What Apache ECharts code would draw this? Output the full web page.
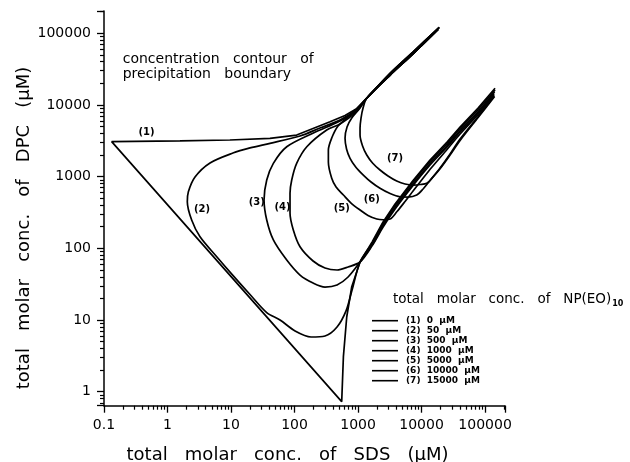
<!DOCTYPE html>
<html><head><meta charset="utf-8">
<script src="https://cdn.jsdelivr.net/npm/echarts@6/dist/echarts.min.js"></script>
<style>html,body{margin:0;padding:0;background:#fff}#c{width:630px;height:462px}</style>
</head><body><div id="c"></div>
<script>
// ---- data (SDS µM, DPC µM) ----
const sdsTicks = [0.1, 1, 10, 100, 1000, 10000, 100000];
const sdsTickLabels = ['0.1', '1', '10', '100', '1000', '10000', '100000'];
const dpcTicks = [1, 10, 100, 1000, 10000, 100000];
const dpcTickLabels = ['1', '10', '100', '1000', '10000', '100000'];
const sdsRange = [0.1, 206000];
const dpcRange = [0.638, 204000];

const seriesNames = ['(1)  0  µM', '(2)  50  µM', '(3)  500  µM', '(4)  1000  µM', '(5)  5000  µM', '(6)  10000  µM', '(7)  15000  µM'];
const curveTags = ['(1)', '(2)', '(3)', '(4)', '(5)', '(6)', '(7)'];

const curve1 = [
  [19000,121000],[7400,55000],[3200,27600],[1370,12400],
  [931,8770],[624,7110],[362,5830],[108,3800],[41,3420],[9.6,3240],[1.57,3140],[0.132,3070],
  [553,0.726],[588,3.08],[664,11.1],[796,29.1],[1075,64.4],
  [1660,122],[2480,233],[3830,415],[7350,883],[13600,1705],[25200,3040],[40400,4920],[77700,9060],[143600,17050]
];
const curve2 = [
  [19000,121000],[7400,55000],[3200,27600],[1370,12400],
  [931,8490],[521,6160],[252,4760],[122,3680],[41.1,2910],[19.9,2510],[10.7,2130],[4.67,1550],[2.71,987],[2.13,615],[2.05,447],[2.40,248],[3.25,145],[5.96,76.4],[10.7,42.0],[19.9,22.7],[36.5,12.7],[59.1,10.0],[102,7.03],[182,5.79],[302,5.98],[467,7.98],[647,13.4],[805,26.2],[1075,64.4],
  [1660,117],[2480,222],[3830,395],[7350,841],[13600,1625],[25200,2895],[40400,4690],[77700,8630],[143600,16130]
];
const curve3 = [
  [19000,121000],[7400,55000],[3200,27600],[1370,12400],
  [931,8220],[521,5960],[198,4060],[75.4,2610],[46.4,1530],[36.5,897],[33.1,472],[36.5,248],[46.4,131],[75.4,68.7],[122,42.4],[196,32.8],[302,28.8],[467,30.8],[697,39.8],[1075,64.4],
  [1660,111],[2480,208],[3830,371],[7350,788],[13600,1524],[25200,2715],[40400,4395],[77700,8090],[141200,15140]
];
const curve4 = [
  [18200,113000],[7400,52000],[3200,26100],[1370,12400],
  [931,7960],[521,5420],[321,4470],[156,2610],[108,1530],[90.3,897],[84.9,585],[84.9,308],[95.7,180],[122,105],[196,66.5],[302,53.1],[467,49.8],[697,54.9],[1075,64.4],
  [1660,108],[2480,198],[3830,353],[7350,751],[13600,1450],[25200,2590],[40400,4190],[77700,7710],[138600,14190]
];
const curve5 = [
  [18200,113000],[7400,52000],[3200,26100],[1370,12400],
  [1000,9060],[697,6780],[484,5080],[385,3450],[341,2350],[341,1600],[385,946],[451,716],[588,554],[776,428],[1075,342],[1435,287],[1972,256],[2480,250],[3190,256],[4110,326],[5495,450],[7350,630],[10180,911],[14630,1360],[25200,2390],[40400,3930],[77700,7350],[138600,13740]
];
const curve6 = [
  [18200,113000],[7400,52000],[3200,26100],[1370,12400],
  [1075,9060],[805,6670],[671,4920],[624,3420],[659,2430],[748,1800],[931,1340],[1211,1052],[1603,841],[2218,687],[3192,581],[4584,524],[6120,519],[8390,554],[10570,671],[13610,883],[19540,1318],[28120,2070],[40400,3345],[77700,6890],[138600,13300]
];
const curve7 = [
  [18200,113000],[7400,52000],[3200,26100],[1370,12400],
  [1199,9060],[1114,6560],[1075,4760],[1075,3800],[1178,2670],[1371,2000],[1690,1550],[2218,1236],[2965,1020],[4060,868],[5495,788],[7430,763],[9470,776],[12080,807],[15170,987],[20280,1340],[28120,2000],[40400,3190],[77700,6670],[141200,13090]
];
const curves = [curve1, curve2, curve3, curve4, curve5, curve6, curve7];

// ---- rendering ----
const FONT = '"DejaVu Sans", sans-serif';
const chart = echarts.init(document.getElementById('c'), null, {renderer: 'canvas', width: 630, height: 462});

function tickFmt(ticks, labels) {
  return v => {
    const i = ticks.findIndex(t => Math.abs(Math.log10(t) - Math.log10(v)) < 1e-6);
    return i >= 0 ? labels[i] : '';
  };
}
// minor log tick positions (2..9 x 10^e), measured in decades from the axis minimum,
// for a helper linear axis that starts at 0 at the grid edge
function minorTickOffsets(range, lo, hi) {
  const base = Math.log10(range[0]);
  const span = Math.log10(range[1]) - base;
  const out = [];
  for (let e = lo; e <= hi; e++) for (let m = 2; m <= 9; m++) {
    const d = Math.log10(m) + e - base;
    if (d >= 0 && d <= span) out.push(d);
  }
  return out;
}
const axisLineStyle = {color: '#000', width: 1.5};

function measure(text, font) {
  const ctx = document.createElement('canvas').getContext('2d');
  ctx.font = font;
  return ctx.measureText(text).width;
}
const legendTitle = 'total   molar   conc.   of   NP(EO)';
const legendTitleFont = '13.5px ' + FONT;
const legendTitleX = 393;
const legendTitleW = measure(legendTitle, legendTitleFont);

// curve tag positions in pixels
const tagPos = [[146.5,132.5],[202,209],[256.7,202.5],[282.5,207.5],[341.7,208.3],[371.7,199],[395,158.3]];

const graphic = [
  {type: 'text', x: 122.7, y: 59.5, style: {text: 'concentration   contour   of', font: '14px ' + FONT, fill: '#000', align: 'left', verticalAlign: 'middle'}},
  {type: 'text', x: 122.7, y: 74.5, style: {text: 'precipitation   boundary', font: '14px ' + FONT, fill: '#000', align: 'left', verticalAlign: 'middle'}},
  {type: 'text', x: 287.5, y: 455, style: {text: 'total   molar   conc.   of   SDS   (µM)', font: '18px ' + FONT, fill: '#000', align: 'center', verticalAlign: 'middle'}},
  {type: 'text', x: 24, y: 228, rotation: Math.PI / 2, style: {text: 'total   molar   conc.   of   DPC   (µM)', font: '18px ' + FONT, fill: '#000', align: 'center', verticalAlign: 'middle'}},
  {type: 'text', x: legendTitleX, y: 299, style: {text: legendTitle, font: legendTitleFont, fill: '#000', align: 'left', verticalAlign: 'middle'}},
  {type: 'text', x: legendTitleX + legendTitleW + 1, y: 304, style: {text: '10', font: 'bold 8px ' + FONT, fill: '#000', align: 'left', verticalAlign: 'middle'}}
];
curveTags.forEach((t, i) => {
  graphic.push({type: 'text', x: tagPos[i][0], y: tagPos[i][1], style: {text: t, font: 'bold 10px ' + FONT, fill: '#000', align: 'center', verticalAlign: 'middle'}});
});

// helper axis: 0 .. number of decades; sits on the zero (= edge) of the perpendicular helper axis
function minorTickAxis(range, position) {
  return {
    type: 'value', min: 0, max: Math.log10(range[1]) - Math.log10(range[0]), position: position,
    axisLine: {show: false, onZero: true, onZeroAxisIndex: 1},
    axisTick: {show: true, customValues: minorTickOffsets(range, -1, 5), length: 4, lineStyle: {color: '#000', width: 1.2}},
    axisLabel: {show: false}, splitLine: {show: false}
  };
}

const option = {
  animation: false,
  backgroundColor: '#fff',
  color: ['#000'],
  grid: {left: 104, right: 125, top: 11, bottom: 56.3, containLabel: false},
  legend: {
    orient: 'vertical', left: 372, top: 315.7, padding: 0, itemGap: 0,
    itemWidth: 26, itemHeight: 1.6, icon: 'rect', selectedMode: false,
    textStyle: {fontSize: 9, fontWeight: 'bold', lineHeight: 10, fontFamily: FONT, color: '#000', padding: [0, 0, 0, 3]},
    data: seriesNames
  },
  xAxis: [
    {type: 'log', min: sdsRange[0], max: sdsRange[1], position: 'bottom',
     axisLine: {lineStyle: axisLineStyle, onZero: false},
     axisTick: {show: true, length: 7, lineStyle: {color: '#000', width: 1.3}},
     axisLabel: {formatter: tickFmt(sdsTicks, sdsTickLabels), margin: 13, color: '#000', fontSize: 14, fontFamily: FONT},
     splitLine: {show: false}},
    minorTickAxis(sdsRange, 'bottom')
  ],
  yAxis: [
    {type: 'log', min: dpcRange[0], max: dpcRange[1], position: 'left',
     axisLine: {lineStyle: axisLineStyle, onZero: false},
     axisTick: {show: true, length: 7, lineStyle: {color: '#000', width: 1.3}},
     axisLabel: {formatter: tickFmt(dpcTicks, dpcTickLabels), margin: 13, color: '#000', fontSize: 14, fontFamily: FONT},
     splitLine: {show: false}},
    minorTickAxis(dpcRange, 'left')
  ],
  series: curves.map((d, i) => ({
    type: 'line', name: seriesNames[i], data: d, xAxisIndex: 0, yAxisIndex: 0,
    symbol: 'none', smooth: i === 0 ? false : 0.3, silent: true,
    lineStyle: {color: '#000', width: 1.7}, itemStyle: {color: '#000'}
  })),
  graphic: graphic
};
chart.setOption(option);
</script>
</body></html>
